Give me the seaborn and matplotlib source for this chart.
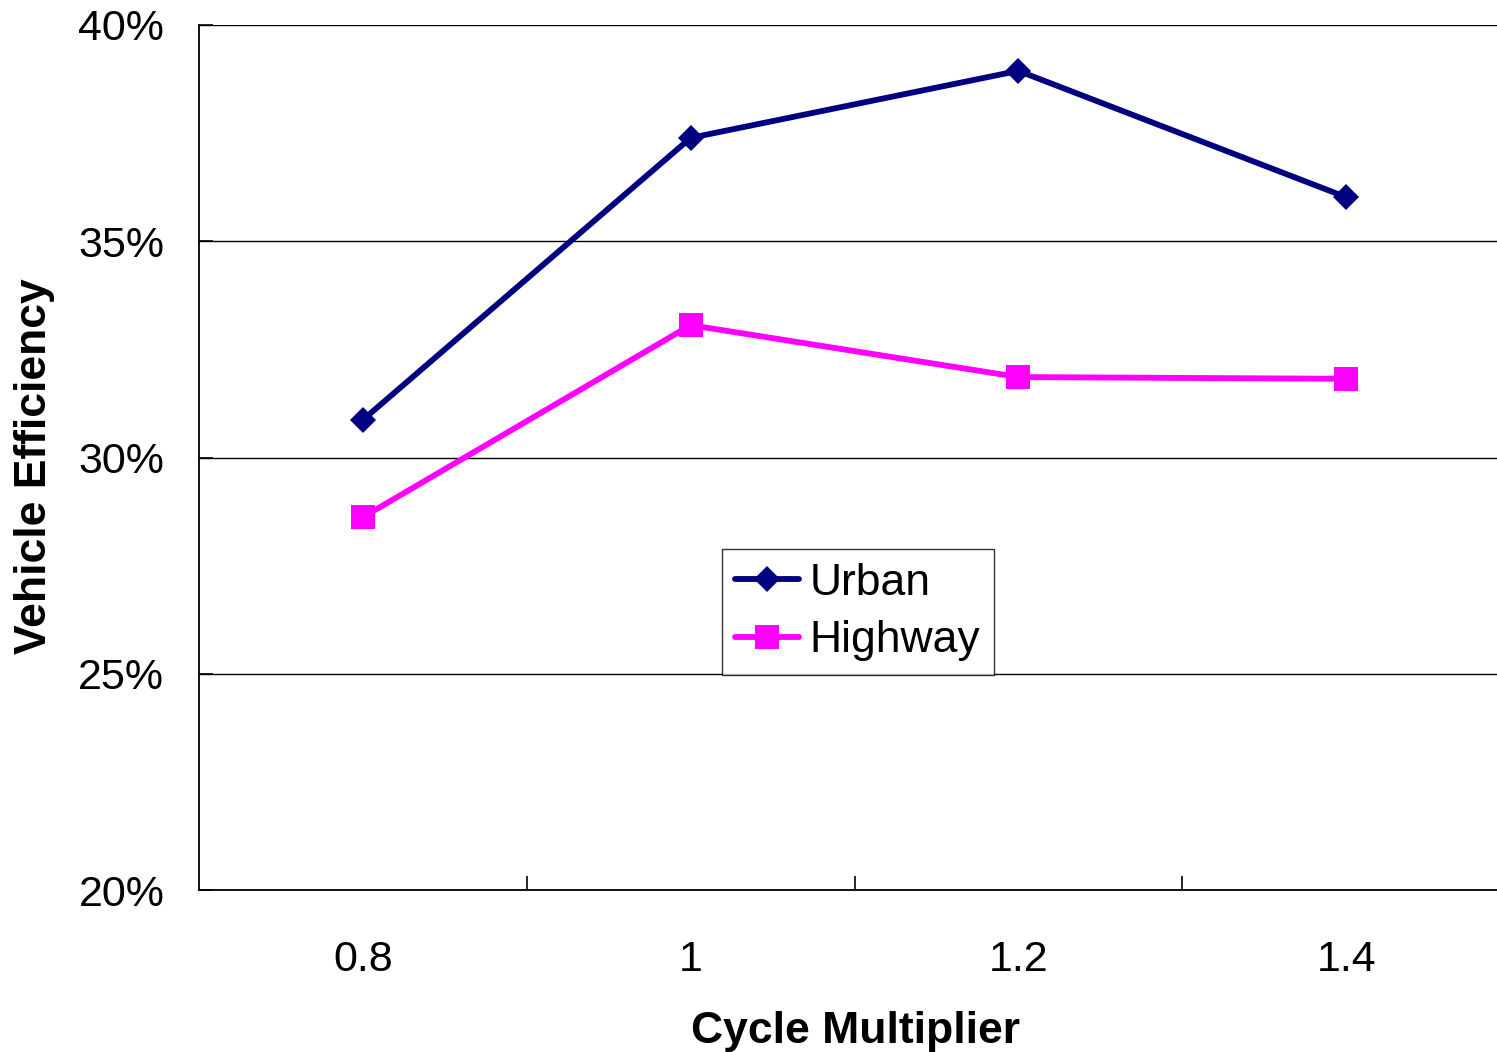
import matplotlib
matplotlib.use("Agg")
import matplotlib.pyplot as plt
import seaborn as sns
import pandas as pd
from matplotlib.ticker import FuncFormatter, FixedLocator

categories = ["0.8", "1", "1.2", "1.4"]
urban = [30.87, 37.39, 38.94, 36.02]
highway = [28.62, 33.06, 31.86, 31.82]
y_ticks = [20, 25, 30, 35, 40]

df = pd.DataFrame({
    "Cycle Multiplier": categories * 2,
    "Efficiency": urban + highway,
    "Series": ["Urban"] * 4 + ["Highway"] * 4,
})

sns.set_theme(style="white")
plt.rcParams["font.family"] = ["Liberation Sans", "DejaVu Sans"]
plt.rcParams["text.color"] = "black"
plt.rcParams["axes.labelcolor"] = "black"
plt.rcParams["xtick.color"] = "black"
plt.rcParams["ytick.color"] = "black"

fig = plt.figure(figsize=(14.97, 10.52), dpi=100)
ax = fig.add_axes([199 / 1497, (1052 - 890) / 1052, 1311 / 1497, 865 / 1052])

sns.lineplot(
    data=df, x="Cycle Multiplier", y="Efficiency", hue="Series", style="Series",
    palette={"Urban": "#000080", "Highway": "#FF00FF"},
    markers={"Urban": "D", "Highway": "s"}, dashes=False,
    linewidth=4.2, markersize=17.5, markeredgewidth=0, ax=ax, sort=False,
)
for line in ax.get_lines():
    if line.get_marker() == "D":
        line.set_markersize(13.5)

ax.set_xlim(-0.5, 3.5)
ax.set_ylim(20, 40)
ax.yaxis.set_major_locator(FixedLocator(y_ticks))
ax.yaxis.set_major_formatter(FuncFormatter(lambda v, p: f"{v:.0f}%"))
ax.grid(axis="y", color="black", linewidth=1.0)
ax.grid(axis="x", visible=False)
ax.set_axisbelow(True)

ax.set_xticks(range(len(categories)))
ax.set_xticklabels(categories)
ax.set_xticks([0.5, 1.5, 2.5], minor=True)
ax.tick_params(axis="x", which="major", length=0, pad=36, labelsize=31, colors="black")
ax.tick_params(axis="x", which="minor", direction="in", length=10, width=1.2, color="black", bottom=True)
ax.tick_params(axis="y", which="major", direction="in", length=10, width=1.2, color="black",
               left=True, pad=25, labelsize=31, labelcolor="black")

for s in ["top", "right"]:
    ax.spines[s].set_visible(False)
for s in ["left", "bottom"]:
    ax.spines[s].set_color("black")
    ax.spines[s].set_linewidth(1.3)

ax.set_xlabel("Cycle Multiplier", fontsize=32, fontweight="bold", color="black")
ax.set_ylabel("Vehicle Efficiency", fontsize=32, fontweight="bold", color="black")
ax.xaxis.set_label_coords((855 - 199) / 1311, -(1011 - 890) / 865)
ax.yaxis.set_label_coords(-(199 - 55) / 1311, 0.49)

handles, labels = ax.get_legend_handles_labels()
leg = ax.legend(handles, labels, loc="upper left", bbox_to_anchor=(0.399, 0.394),
                borderaxespad=0, fontsize=32, frameon=True, fancybox=False,
                edgecolor="black", handlelength=1.44, handletextpad=0.23,
                borderpad=0.3, labelspacing=0.38, markerscale=1.0)
leg.get_frame().set_linewidth(1.0)
for t in leg.get_texts():
    t.set_color("black")

fig.savefig("out.png", dpi=100)
